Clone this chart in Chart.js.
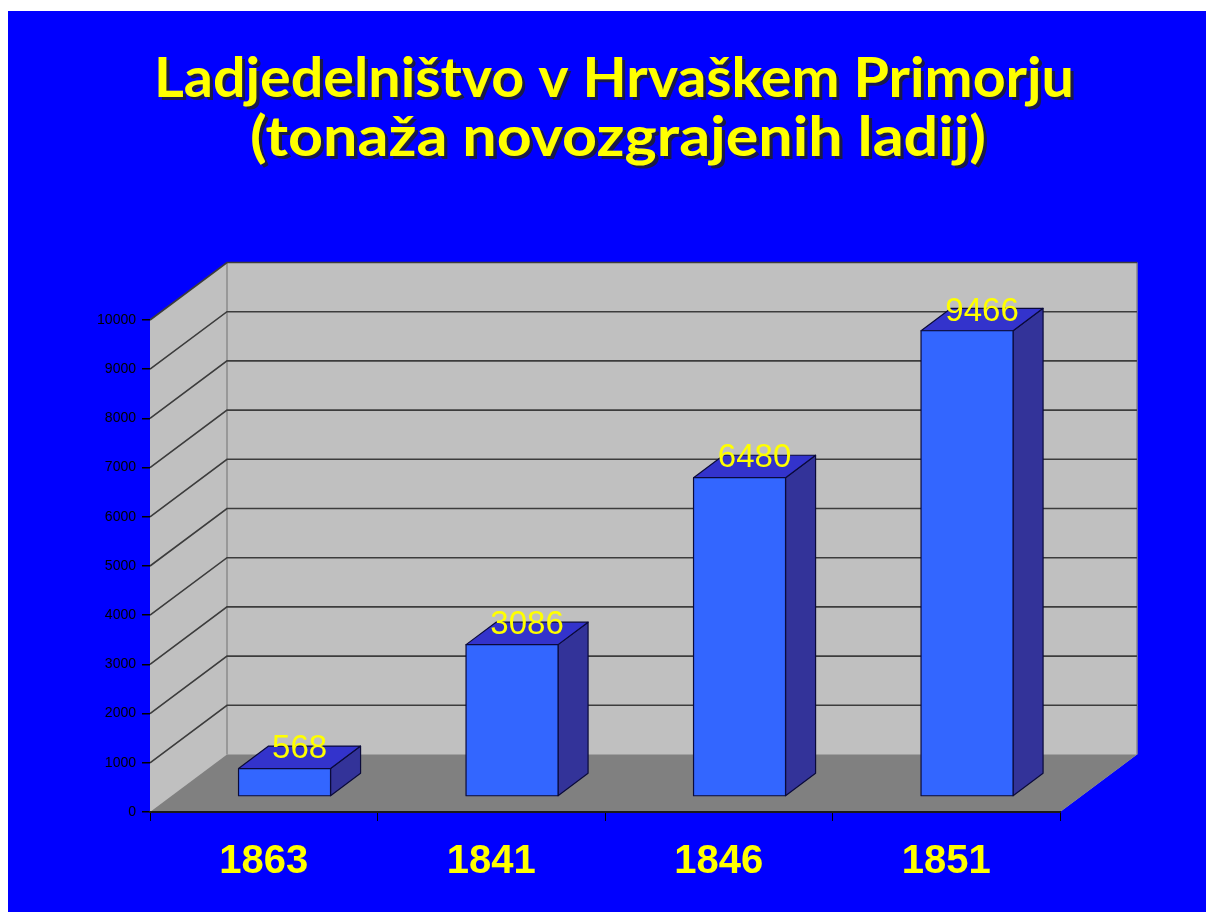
<!DOCTYPE html>
<html>
<head>
<meta charset="utf-8">
<script src="https://cdn.jsdelivr.net/npm/chart.js@4.4.0/dist/chart.umd.min.js"></script>
<style>
  html, body { margin: 0; padding: 0; background: #ffffff; }
  #wrap { position: absolute; left: 8px; top: 11px; width: 1198px; height: 901px; background: #0000ff; }
</style>
</head>
<body>
<div id="wrap"><canvas id="chart" width="1198" height="901"></canvas></div>
<script>
const titleLines = ['Ladjedelništvo v Hrvaškem Primorju', '(tonaža novozgrajenih ladij)']
const years = ['1863', '1841', '1846', '1851']
const tonnage = [568, 3086, 6480, 9466]
const yMin = 0
const yMax = 10000
const yStep = 1000

// 3d look
const DEPTH_X = 77
const DEPTH_Y = -57.5
const BAR_FRONT = 0.27   // where the bar's front face sits in the depth
const BAR_DEPTH = 0.39   // how deep the bar is

const wallsPlugin = {
    id: 'walls',
    beforeDraw(chart){
        const { ctx, chartArea: a, scales } = chart
        const y = scales.y
        const y0 = y.getPixelForValue(yMin)
        const yTop = y.getPixelForValue(yMax)
        ctx.save()
        // side + back wall as one shape, covering the floor area too
        ctx.fillStyle = '#c0c0c0'
        ctx.beginPath()
        ctx.moveTo(a.left, yTop)
        ctx.lineTo(a.left + DEPTH_X, yTop + DEPTH_Y)
        ctx.lineTo(a.right + DEPTH_X, yTop + DEPTH_Y)
        ctx.lineTo(a.right + DEPTH_X, y0 + DEPTH_Y)
        ctx.lineTo(a.right, y0)
        ctx.lineTo(a.left, y0)
        ctx.closePath()
        ctx.fill()
        // floor
        ctx.fillStyle = '#808080'
        ctx.beginPath()
        ctx.moveTo(a.left, y0)
        ctx.lineTo(a.left + DEPTH_X, y0 + DEPTH_Y)
        ctx.lineTo(a.right + DEPTH_X, y0 + DEPTH_Y)
        ctx.lineTo(a.right, y0)
        ctx.closePath()
        ctx.fill()
        // wall edges
        ctx.strokeStyle = '#8a8a8a'
        ctx.lineWidth = 1.5
        ctx.beginPath()
        ctx.moveTo(a.left + DEPTH_X, yTop + DEPTH_Y)
        ctx.lineTo(a.left + DEPTH_X, y0 + DEPTH_Y)
        ctx.moveTo(a.right + DEPTH_X, yTop + DEPTH_Y)
        ctx.lineTo(a.right + DEPTH_X, y0 + DEPTH_Y)
        ctx.stroke()
        // gridlines on side + back wall
        ctx.strokeStyle = '#3c3c3c'
        ctx.lineWidth = 1.6
        y.ticks.forEach(t => {
            if (t.value === yMin) return
            const py = y.getPixelForValue(t.value)
            ctx.beginPath()
            ctx.moveTo(a.left, py)
            ctx.lineTo(a.left + DEPTH_X, py + DEPTH_Y)
            ctx.lineTo(a.right + DEPTH_X, py + DEPTH_Y)
            ctx.stroke()
        })
        ctx.restore()
    },
    afterDraw(chart){
        const { ctx } = chart
        ctx.save()
        ctx.font = 'bold 55px Lato'
        ctx.textAlign = 'left'
        ctx.textBaseline = 'alphabetic'
        const lines = [
            { text: titleLines[0], cx: 606, base: 86, w: 920 },
            { text: titleLines[1], cx: 610, base: 145, w: 736 },
        ]
        lines.forEach(l => {
            const m = ctx.measureText(l.text).width
            ctx.save()
            ctx.translate(l.cx - l.w / 2, l.base)
            ctx.scale(l.w / m, 1)
            ctx.fillStyle = '#1a1a4a'
            ctx.fillText(l.text, 3, 3)
            ctx.fillStyle = '#ffff00'
            ctx.fillText(l.text, 0, 0)
            ctx.restore()
        })
        ctx.restore()
    }
}

const bars3dPlugin = {
    id: 'bars3d',
    afterDatasetsDraw(chart){
        const { ctx } = chart
        const meta = chart.getDatasetMeta(0)
        const fx = DEPTH_X * BAR_FRONT, fy = DEPTH_Y * BAR_FRONT
        const bx = DEPTH_X * BAR_DEPTH, by = DEPTH_Y * BAR_DEPTH
        ctx.save()
        ctx.lineJoin = 'round'
        ctx.strokeStyle = '#0a0a3a'
        ctx.lineWidth = 1.2
        meta.data.forEach((bar, i) => {
            const p = bar.getProps(['x', 'y', 'base', 'width'], true)
            const l = p.x - p.width / 2 + fx
            const r = p.x + p.width / 2 + fx
            const top = p.y + fy
            const bot = p.base + fy
            // side
            ctx.fillStyle = '#333399'
            ctx.beginPath()
            ctx.moveTo(r, top); ctx.lineTo(r + bx, top + by)
            ctx.lineTo(r + bx, bot + by); ctx.lineTo(r, bot)
            ctx.closePath(); ctx.fill(); ctx.stroke()
            // top
            ctx.fillStyle = '#3333cc'
            ctx.beginPath()
            ctx.moveTo(l, top); ctx.lineTo(l + bx, top + by)
            ctx.lineTo(r + bx, top + by); ctx.lineTo(r, top)
            ctx.closePath(); ctx.fill(); ctx.stroke()
            // front
            ctx.fillStyle = '#3366ff'
            ctx.beginPath()
            ctx.rect(l, top, r - l, bot - top)
            ctx.fill(); ctx.stroke()
            // value label
            ctx.fillStyle = '#ffff00'
            ctx.font = '33px Arial'
            ctx.textAlign = 'center'
            ctx.textBaseline = 'alphabetic'
            ctx.fillText(String(tonnage[i]), (l + r) / 2 + bx / 2, top + by / 2 + 1)
        })
        ctx.restore()
    }
}

new Chart(document.getElementById('chart'), {
    type: 'bar',
    data: {
        labels: years,
        datasets: [{
            data: tonnage,
            backgroundColor: 'rgba(0,0,0,0)',
            borderWidth: 0,
            categoryPercentage: 1,
            barPercentage: 92 / 227.5,
        }]
    },
    options: {
        responsive: false,
        animation: false,
        events: [],
        layout: { padding: { left: 0, right: 146, top: 309, bottom: 0 } },
        plugins: {
            legend: { display: false },
            title: { display: false },
            tooltip: { enabled: false },
        },
        scales: {
            x: {
                afterFit: s => { s.height = 100 },
                grid: { drawOnChartArea: false, drawTicks: true, tickLength: 9, color: '#000000', lineWidth: 1 },
                border: { display: true, color: '#1a1a1a', width: 2 },
                ticks: { color: '#ffff00', font: { family: 'Arial', size: 40, weight: 'bold' }, padding: 17 },
            },
            y: {
                min: yMin,
                max: yMax,
                afterFit: s => { s.width = 142 },
                grid: { drawOnChartArea: false, drawTicks: true, tickLength: 8, color: '#000000', lineWidth: 1.5 },
                border: { display: false },
                ticks: {
                    stepSize: yStep,
                    color: '#000000',
                    font: { family: 'Arial', size: 14 },
                    padding: 6,
                    callback: v => String(v),
                },
            }
        }
    },
    plugins: [wallsPlugin, bars3dPlugin]
})
</script>
</body>
</html>
